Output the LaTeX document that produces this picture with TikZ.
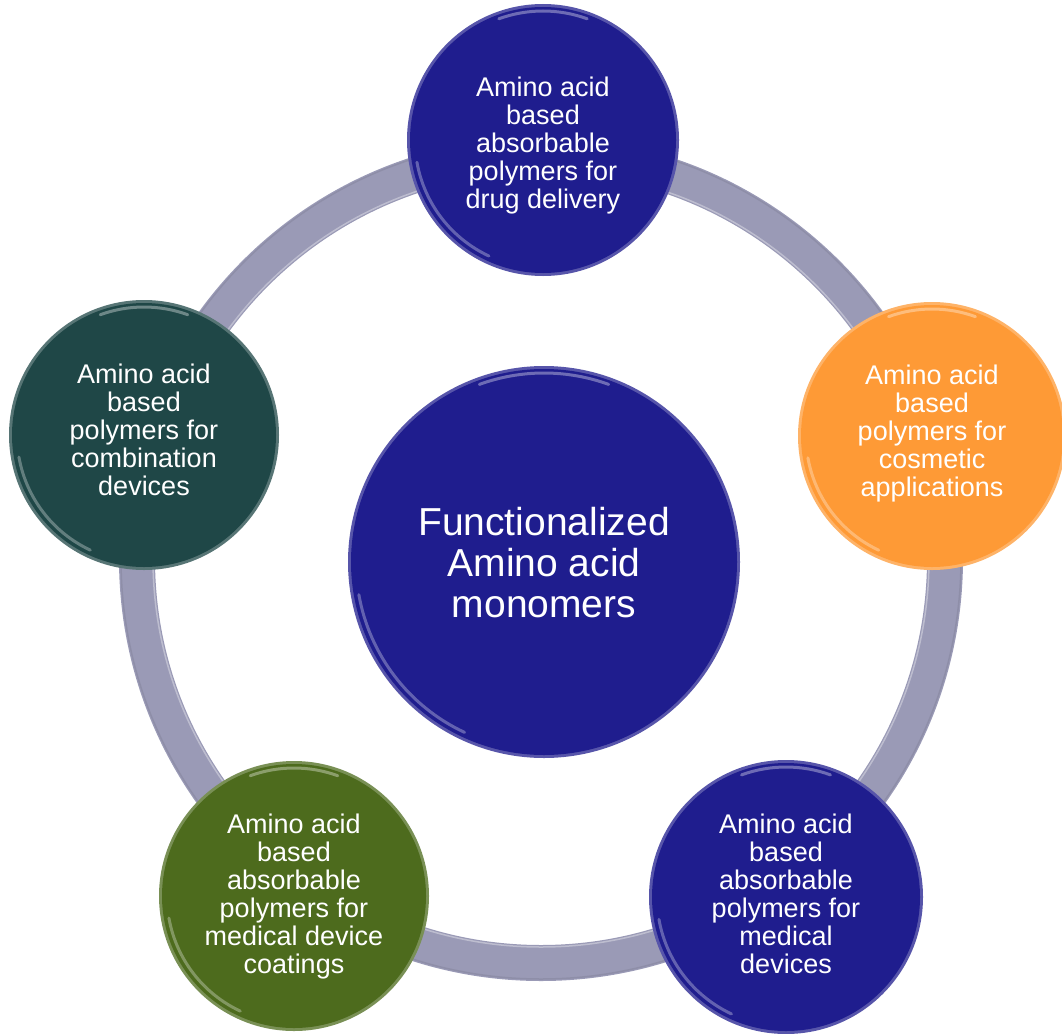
\documentclass[tikz,border=0pt]{standalone}
\usepackage{fontspec}
\setmainfont{Liberation Sans}
\definecolor{cblue}{HTML}{1F1D8E}
\definecolor{cteal}{HTML}{1F4747}
\definecolor{corange}{HTML}{FE9A36}
\definecolor{cgreen}{HTML}{4D6B1D}
\definecolor{cring}{HTML}{9A9AB6}
\newcommand\mybubble[8]{% name, x, y, r, colour, font, text, text y offset
  \fill[#5!75!white] (#2,#3) circle[radius=#4];
  \fill[#5] (#2,#3) circle[radius=#4-3];
  \draw[white,opacity=.35,line width=3pt,line cap=round] (#2,#3) ++(250:#4-7) arc[start angle=250,end angle=290,radius=#4-7];
  \draw[white,opacity=.3,line width=3pt,line cap=round] (#2,#3) ++(115:#4-8) arc[start angle=115,end angle=170,radius=#4-8];
  \node[bubbletext,font=#6] (#1) at (#2,#3+#8) {#7};
}
\begin{document}
\begin{tikzpicture}[x=1pt,y=-1pt,
  bubbletext/.style={circle,inner sep=0pt,text=white,align=center},
  ringline/.style={line width=36pt,draw=cring}]
\useasboundingbox (0,0) rectangle (1062,1033);
% ring
\coordinate (ringc) at (541,559);
\draw[ringline] (ringc) circle[radius=404];
\draw[white,opacity=.35,line width=1.5pt] (ringc) circle[radius=388];
\draw[cring!70!black,opacity=.25,line width=1.5pt] (ringc) circle[radius=420];
% bubbles
\mybubble{top}{543}{140}{136}{cblue}{\fontsize{27}{28}\selectfont}{Amino acid\\based\\absorbable\\polymers for\\drug delivery}{6}
\mybubble{right}{932}{436}{134}{corange}{\fontsize{27}{28}\selectfont}{Amino acid\\based\\polymers for\\cosmetic\\applications}{-2}
\mybubble{left}{144}{435}{135}{cteal}{\fontsize{27}{28}\selectfont}{Amino acid\\based\\polymers for\\combination\\devices}{-5}
\mybubble{botleft}{294}{896}{135}{cgreen}{\fontsize{27}{28}\selectfont}{Amino acid\\based\\absorbable\\polymers for\\medical device\\coatings}{1}
\mybubble{botright}{786}{897}{137}{cblue}{\fontsize{27}{28}\selectfont}{Amino acid\\based\\absorbable\\polymers for\\medical\\devices}{-3}
\mybubble{hub}{544}{562}{196}{cblue}{\fontsize{39}{41}\selectfont}{Functionalized\\Amino acid\\monomers}{1}
\end{tikzpicture}
\end{document}
